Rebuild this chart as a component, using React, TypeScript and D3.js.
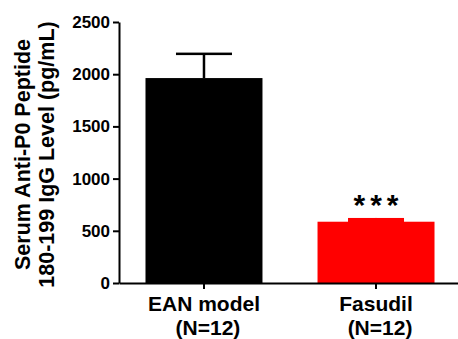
import React, { useEffect, useRef } from 'react';
import * as d3 from 'd3';

const groups = ['EAN model', 'Fasudil'];
const groupN = ['(N=12)', '(N=12)'];
const means = [1963, 587];
const errors = [232, 36];
const colors = ['#000000', '#ff0000'];
const marks = ['', '***'];
const yTicks = [0, 500, 1000, 1500, 2000, 2500];

const W = 458;
const H = 339;

const App = () => {
  const svgRef = useRef<SVGSVGElement>(null);

  useEffect(() => {
    const svg = d3.select(svgRef.current);
    svg.selectAll('*').remove();

    const left = 119;
    const y0 = 283;
    const yTop = 22;

    const y = d3.scaleLinear().domain([0, 2500]).range([y0, yTop]);
    const x = d3.scaleBand()
      .domain(groups)
      .range([left, 461])
      .paddingInner(0.32)
      .paddingOuter(0.154);

    const font = 'Liberation Sans, Arial, sans-serif';

    // bars
    groups.forEach((g, i) => {
      const cx = x(g)! + x.bandwidth() / 2;
      svg.append('rect')
        .attr('x', x(g)!)
        .attr('y', y(means[i]))
        .attr('width', x.bandwidth())
        .attr('height', y0 - y(means[i]))
        .attr('fill', colors[i]);

      // error bar (stem + cap); a short bar merges with the bar top
      const top = y(means[i] + errors[i]);
      const gap = y(means[i]) - top;
      svg.append('line')
        .attr('x1', cx).attr('x2', cx)
        .attr('y1', y(means[i])).attr('y2', top)
        .attr('stroke', colors[i])
        .attr('stroke-width', 2.5);
      svg.append('rect')
        .attr('x', cx - 28)
        .attr('y', gap < 8 ? top : top - 1.25)
        .attr('width', 56)
        .attr('height', gap < 8 ? gap + 0.5 : 2.5)
        .attr('fill', colors[i]);

      if (marks[i]) {
        svg.append('text')
          .attr('x', cx + 2.5)
          .attr('y', top - 3)
          .attr('text-anchor', 'middle')
          .attr('font-family', font)
          .attr('font-weight', 'bold')
          .attr('font-size', 30)
          .attr('letter-spacing', 5)
          .text(marks[i]);
      }
    });

    // y axis
    const yAxis = svg.append('g')
      .attr('transform', `translate(${left},0)`)
      .call(d3.axisLeft(y).tickValues(yTicks).tickFormat(d3.format('d')).tickSize(6).tickSizeOuter(0).tickPadding(3));
    yAxis.selectAll('path, line').attr('stroke', '#000').attr('stroke-width', 2);
    yAxis.selectAll('text')
      .attr('font-family', font)
      .attr('font-weight', 'bold')
      .attr('font-size', 17)
      .attr('fill', '#000');

    // x axis
    const xAxis = svg.append('g')
      .attr('transform', `translate(0,${y0})`)
      .call(d3.axisBottom(x).tickSize(6).tickSizeOuter(0).tickFormat(() => ''));
    xAxis.selectAll('path, line').attr('stroke', '#000').attr('stroke-width', 2);

    groups.forEach((g, i) => {
      const cx = x(g)! + x.bandwidth() / 2;
      const t = svg.append('text')
        .attr('x', cx)
        .attr('y', y0 + 28)
        .attr('text-anchor', 'middle')
        .attr('font-family', font)
        .attr('font-weight', 'bold')
        .attr('font-size', 21);
      t.append('tspan').attr('x', cx).text(g);
      t.append('tspan').attr('x', cx + 4).attr('dy', 24).text(groupN[i]);
    });

    // y title
    const title = svg.append('text')
      .attr('transform', `translate(30,${(y0 + yTop) / 2 + 2}) rotate(-90)`)
      .attr('text-anchor', 'middle')
      .attr('font-family', font)
      .attr('font-weight', 'bold')
      .attr('font-size', 21.5);
    title.append('tspan').attr('x', 0).attr('y', 0).text('Serum Anti-P0 Peptide');
    title.append('tspan').attr('x', 0).attr('y', 24).text('180-199 IgG Level (pg/mL)');
  }, []);

  return (
    <svg
      ref={svgRef}
      width={W}
      height={H}
      style={{ position: 'absolute', left: 0, top: 0, background: '#fff' }}
    />
  );
};

export default App;
